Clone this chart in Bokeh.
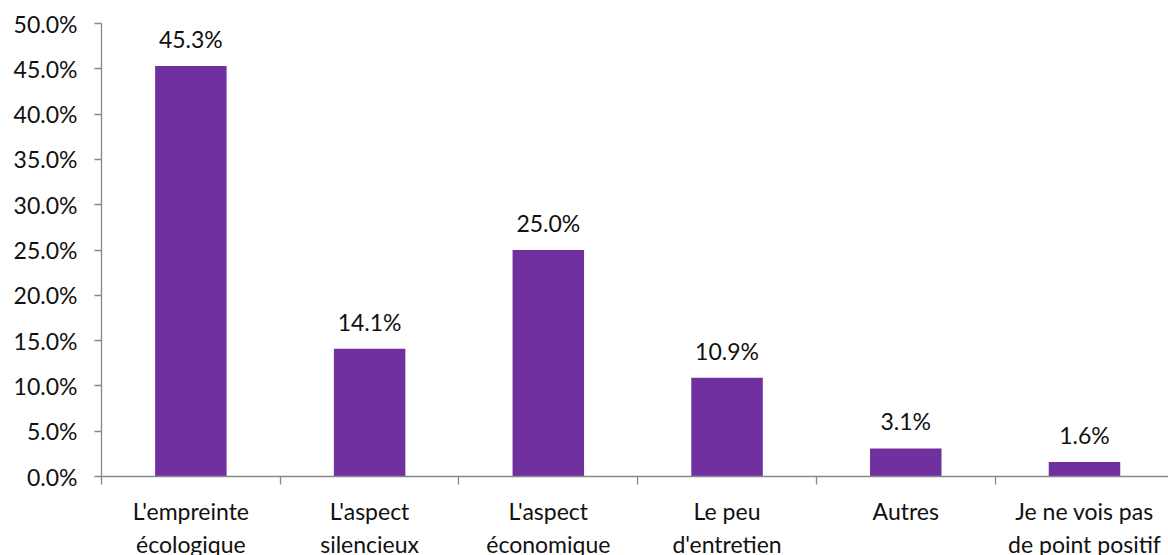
from bokeh.plotting import figure
from bokeh.models import Range1d, FixedTicker, NumeralTickFormatter, ColumnDataSource
from bokeh.core.properties import value
from bokeh.embed import file_html
from bokeh.resources import INLINE

categories = [
    "L'empreinte\nécologique",
    "L'aspect\nsilencieux",
    "L'aspect\néconomique",
    "Le peu\nd'entretien",
    "Autres",
    "Je ne vois pas\nde point positif",
]
shares = [0.453, 0.141, 0.250, 0.109, 0.031, 0.016]
share_labels = ["45.3%", "14.1%", "25.0%", "10.9%", "3.1%", "1.6%"]

FONT = "Lato"
BAR = "#7030A0"
AXIS = "#888888"

centers = [i + 0.5 for i in range(len(categories))]
src = ColumnDataSource(dict(x=centers, top=shares, label=share_labels))

p = figure(
    width=1168, height=555,
    frame_width=1067, frame_height=453,
    x_range=Range1d(0, 5.97), y_range=Range1d(0, 0.5),
    output_backend="svg", toolbar_location=None,
    min_border_left=101, min_border_top=23, min_border_right=0, min_border_bottom=79,
)
p.outline_line_color = None
p.grid.grid_line_color = None
p.background_fill_color = "white"
p.border_fill_color = "white"

p.vbar(x="x", top="top", width=0.4, source=src, fill_color=BAR, line_color=None)
p.text(x="x", y="top", text="label", source=src, y_offset=-13,
       text_align="center", text_baseline="bottom",
       text_font=value(FONT), text_font_size="23px", text_color="#111111")

# y axis: percentages every 5 points
ya = p.yaxis[0]
ya.ticker = FixedTicker(ticks=[i * 0.05 for i in range(11)])
ya.formatter = NumeralTickFormatter(format="0.0%")
ya.axis_line_color = AXIS
ya.axis_line_width = 1.3
ya.major_tick_line_color = AXIS
ya.major_tick_line_width = 1.3
ya.major_tick_in = 0
ya.major_tick_out = 7
ya.minor_tick_line_color = None
ya.major_label_standoff = 17
ya.major_label_text_font = FONT
ya.major_label_text_font_size = "23px"
ya.major_label_text_color = "#111111"

# x axis: labels at category centres, tick marks at category boundaries
xa = p.xaxis[0]
xa.ticker = FixedTicker(ticks=centers, minor_ticks=list(range(len(categories) + 1)))
xa.major_label_overrides = {c: lab for c, lab in zip(centers, categories)}
xa.axis_line_color = AXIS
xa.axis_line_width = 1.3
xa.major_tick_line_color = None
xa.minor_tick_line_color = AXIS
xa.minor_tick_line_width = 1.3
xa.minor_tick_in = 0
xa.minor_tick_out = 8
xa.major_label_standoff = 12
xa.major_label_text_font = FONT
xa.major_label_text_font_size = "23px"
xa.major_label_text_color = "#111111"
xa.major_label_text_line_height = 1.2

open("out.html", "w").write(file_html(p, INLINE))
